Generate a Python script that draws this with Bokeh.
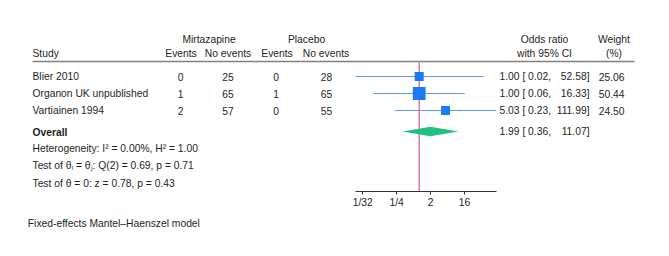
import math
from bokeh.plotting import figure
from bokeh.layouts import column
from bokeh.models import (Range1d, LogScale, LogAxis, FixedTicker, CustomJSTickFormatter,
                          ColumnDataSource)
from bokeh.core.properties import value
from bokeh.embed import file_html
from bokeh.resources import INLINE

# ---------------- data ----------------
studies = ["Blier 2010", "Organon UK unpublished", "Vartiainen 1994"]
mirt_events = [0, 1, 2]
mirt_no_events = [25, 65, 57]
plac_events = [0, 1, 0]
plac_no_events = [28, 65, 55]
odds_ratio = [1.00, 1.00, 5.03]
ci_low = [0.02, 0.06, 0.23]
ci_high = [52.58, 16.33, 111.99]
weights = [25.06, 50.44, 24.50]
overall_or = 1.99
overall_low = 0.36
overall_high = 11.07
tick_values = [1 / 32, 1 / 4, 2, 16]
tick_labels = ["1/32", "1/4", "2", "16"]
stats_lines = [
    "Heterogeneity: I\u00b2 = 0.00%, H\u00b2 = 1.00",
    "Test of \u03b8\u1d62 = \u03b8\u2c7c: Q(2) = 0.69, p = 0.71",
    "Test of \u03b8 = 0: z = 0.78, p = 0.43",
]
note = "Fixed-effects Mantel\u2013Haenszel model"

# ---------------- layout (page pixels) ----------------
W = 661
FRAME_BOTTOM = 191          # page y of the x axis
TOP_H = 211                 # height of the main figure (frame + axis panel)
NOTE_H = 37
PX_PER_LOG2 = 11.3
X_OF_TWO = 430.0            # page x of tick "2"

def log2_at(px):
    return 1 + (px - X_OF_TWO) / PX_PER_LOG2

FONT = value("Liberation Sans")
FS = "10.3px"
TXT = "#1e1e1e"

row_y = [76, 93, 110]
overall_y = 131
stats_y = [148.3, 165.3, 182.5]
header_line_y = 61

p = figure(width=W, height=TOP_H, output_backend="svg", toolbar_location=None,
           x_axis_location=None, y_axis_location=None,
           x_range=Range1d(0, W), y_range=Range1d(FRAME_BOTTOM, 0),
           min_border_left=0, min_border_right=0, min_border_top=0,
           min_border_bottom=TOP_H - FRAME_BOTTOM)
p.outline_line_color = None
p.xgrid.visible = False
p.ygrid.visible = False
p.background_fill_color = "white"
p.border_fill_color = "white"

p.extra_x_ranges = {"forest": Range1d(2 ** log2_at(0), 2 ** log2_at(W))}
p.extra_x_scales = {"forest": LogScale()}

ax = LogAxis(x_range_name="forest", ticker=FixedTicker(ticks=tick_values),
             formatter=CustomJSTickFormatter(args=dict(labels=tick_labels),
                                             code="return labels[index]"),
             bounds=(min(ci_low), max(ci_high)))
ax.axis_line_color = "#333333"
ax.axis_line_width = 1
ax.major_tick_line_color = "#333333"
ax.major_tick_out = 3
ax.major_tick_in = 0
ax.minor_tick_line_color = None
ax.major_label_text_font = "Liberation Sans"
ax.major_label_text_font_size = FS
ax.major_label_text_color = TXT
ax.major_label_standoff = 2
p.add_layout(ax, "below")

def txt(fig, xs, ys, texts, align="left", style="normal"):
    fig.text(x=xs, y=ys, text=texts, text_align=align, text_baseline="middle",
             text_font=FONT, text_font_size=FS, text_color=TXT, text_font_style=style)

# headers
txt(p, [208.5, 306], [39.3, 39.3], ["Mirtazapine", "Placebo"], align="center")
txt(p, [544, 613.5], [39.3, 39.3], ["Odds ratio", "Weight"], align="center")
txt(p, [32], [53.3], ["Study"])
txt(p, [180.5, 227.5, 276.5, 325.5, 544, 613.5], [53.3] * 6,
    ["Events", "No events", "Events", "No events", "with 95% CI", "(%)"], align="center")
p.segment(x0=[32], y0=[header_line_y], x1=[634], y1=[header_line_y],
          line_color="#808080", line_width=1.5)

# study rows
txt(p, [32] * 3, row_y, studies)
txt(p, [180] * 3, row_y, [str(v) for v in mirt_events], align="center")
txt(p, [227.5] * 3, row_y, [str(v) for v in mirt_no_events], align="center")
txt(p, [275.5] * 3, row_y, [str(v) for v in plac_events], align="center")
txt(p, [326] * 3, row_y, [str(v) for v in plac_no_events], align="center")
txt(p, [499] * 3, row_y, [f"{o:.2f} [ {l:.2f}," for o, l in zip(odds_ratio, ci_low)])
txt(p, [589] * 3, row_y, [f"{h:.2f}]" for h in ci_high], align="right")
txt(p, [598.3] * 3, row_y, [f"{w:.2f}" for w in weights])

# overall
txt(p, [32], [overall_y + 0.7], ["Overall"], style="bold")
txt(p, [499], [overall_y], [f"{overall_or:.2f} [ {overall_low:.2f},"])
txt(p, [589], [overall_y], [f"{overall_high:.2f}]"], align="right")
txt(p, [32] * 3, stats_y, stats_lines)

# forest marks
src = ColumnDataSource(dict(y=row_y, est=odds_ratio, lo=ci_low, hi=ci_high,
                            size=[1.8 * math.sqrt(w) for w in weights]))
p.segment(x0="lo", y0="y", x1="hi", y1="y", source=src, x_range_name="forest",
          line_color="#5b9cf0", line_width=1)
p.segment(x0=[1], y0=[header_line_y], x1=[1], y1=[FRAME_BOTTOM], x_range_name="forest",
          line_color="#e0789a", line_width=1.5)
p.scatter(x="est", y="y", size="size", marker="square", source=src, x_range_name="forest",
          fill_color="#1a7cf5", line_color=None)
hd = 4.7
p.patch(x=[overall_low, overall_or, overall_high, overall_or],
        y=[overall_y, overall_y - hd, overall_y, overall_y + hd],
        x_range_name="forest", fill_color="#20c080", line_color=None)

# note figure below
q = figure(width=W, height=NOTE_H, output_backend="svg", toolbar_location=None,
           x_axis_location=None, y_axis_location=None,
           x_range=Range1d(0, W), y_range=Range1d(TOP_H + NOTE_H, TOP_H),
           min_border=0)
q.outline_line_color = None
q.xgrid.visible = False
q.ygrid.visible = False
txt(q, [27.3], [222.7], [note])

open("out.html", "w").write(file_html(column(p, q, spacing=0), INLINE))
